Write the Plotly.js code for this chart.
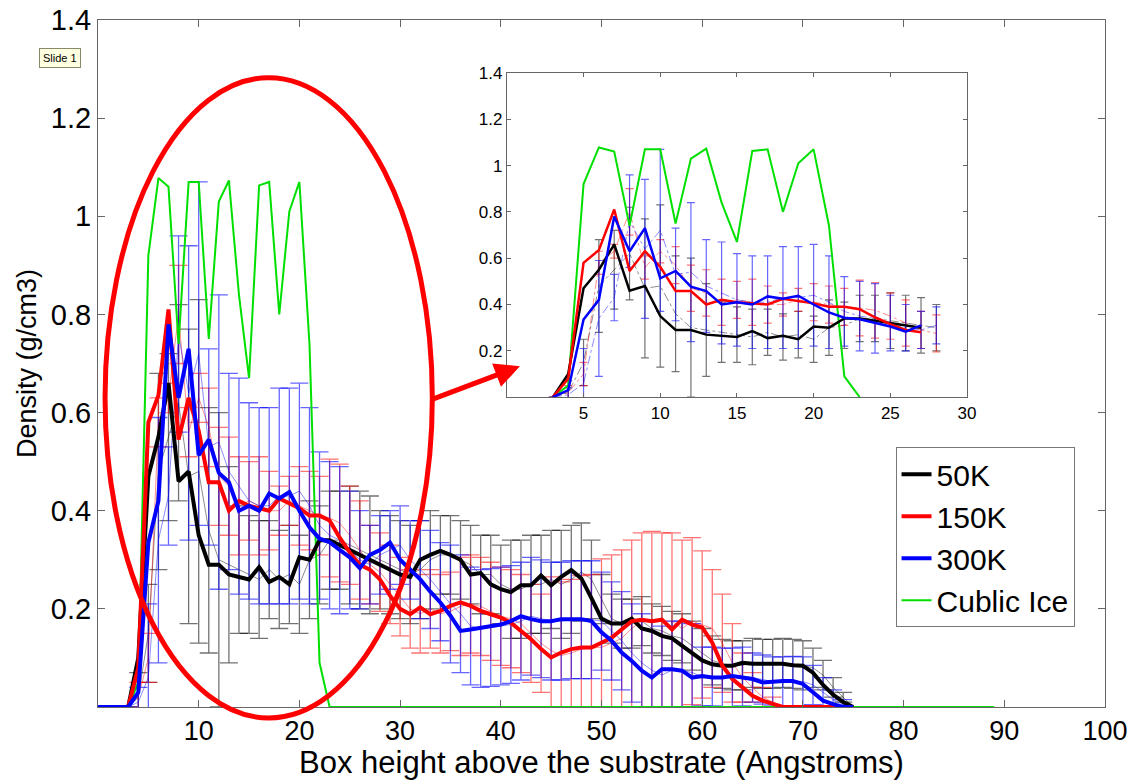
<!DOCTYPE html>
<html>
<head>
<meta charset="utf-8">
<script src="https://cdn.plot.ly/plotly-3.0.1.min.js"></script>
<style>html,body{margin:0;padding:0;background:#fff;}#chart{width:1145px;height:780px;}</style>
</head>
<body>
<div id="chart"></div>
<script>
// Bin positions (Angstroms)
const xs = [0,1,2,3,4,5,6,7,8,9,10,11,12,13,14,15,16,17,18,19,20,21,22,23,24,25,26,27,28,29,30,31,32,33,34,35,36,37,38,39,40,41,42,43,44,45,46,47,48,49,50,51,52,53,54,55,56,57,58,59,60,61,62,63,64,65,66,67,68,69,70,71,72,73,74,75];

// 50K mean density, a single run, and error
const d50 = [0,0,0,0,0.10,0.47,0.55,0.66,0.46,0.48, 0.35,0.29,0.29,0.27,0.265,0.26,0.285,0.255,0.265,0.25, 0.305,0.30,0.34,0.34,0.33,0.32,0.31,0.30,0.29,0.28, 0.27,0.265,0.30,0.31,0.318,0.31,0.30,0.27,0.273,0.25, 0.24,0.234,0.248,0.248,0.268,0.248,0.265,0.279,0.262,0.222, 0.18,0.17,0.17,0.18,0.16,0.155,0.145,0.14,0.125,0.11, 0.095,0.087,0.084,0.084,0.09,0.088,0.088,0.09,0.088,0.085, 0.084,0.07,0.045,0.025,0.01,0];
const d50run = [0,0,0,0,0.02,0.15,0.48,0.55,0.62,0.47, 0.48,0.36,0.30,0.29,0.28,0.27,0.26,0.28,0.26,0.27, 0.25,0.30,0.31,0.34,0.34,0.33,0.32,0.31,0.30,0.29, 0.28,0.27,0.28,0.30,0.31,0.31,0.30,0.29,0.27,0.27, 0.25,0.24,0.24,0.25,0.25,0.26,0.25,0.26,0.275,0.26, 0.22,0.18,0.17,0.17,0.175,0.16,0.155,0.145,0.14,0.125, 0.11,0.095,0.088,0.085,0.085,0.09,0.088,0.088,0.09,0.088, 0.085,0.08,0.065,0.04,0.02,0];
const e50 = [null,null,null,null,0.05,0.1,0.2,0.17,0.2,0.3, 0.35,0.25,0.3,0.2,0.13,0.12,0.12,0.1,0.1,0.1, 0.1,0.12,0.1,0.1,0.1,0.12,0.12,0.12,0.1,0.1, 0.1,0.1,0.1,0.1,0.08,0.08,0.08,0.08,0.08,0.08, 0.08,0.1,0.1,0.1,0.1,0.1,0.11,0.11,0.1,0.08, 0.05,0.05,0.05,0.05,0.05,0.05,0.05,0.05,0.05,0.05, 0.05,0.05,0.05,0.05,0.05,0.05,0.05,0.05,0.05,0.05, 0.05,0.04,0.03,0.02,0.01,null];

// 150K
const d150 = [0,0,0,0,0.08,0.58,0.635,0.81,0.545,0.63, 0.563,0.458,0.458,0.40,0.42,0.41,0.405,0.40,0.425,0.415, 0.405,0.39,0.39,0.38,0.345,0.315,0.29,0.28,0.26,0.227, 0.20,0.189,0.203,0.189,0.196,0.206,0.213,0.206,0.196,0.189, 0.182,0.172,0.155,0.138,0.118,0.101,0.111,0.118,0.121,0.121, 0.131,0.141,0.158,0.175,0.178,0.175,0.178,0.158,0.178,0.168, 0.162,0.131,0.084,0.057,0.04,0.023,0.013,0.006,0,0, 0,0,0,0,0,0];
const d150run = [0,0,0,0,0.02,0.10,0.58,0.63,0.80,0.56, 0.63,0.57,0.47,0.45,0.41,0.42,0.41,0.40,0.40,0.42, 0.41,0.40,0.39,0.385,0.375,0.35,0.32,0.29,0.275,0.25, 0.225,0.20,0.19,0.20,0.19,0.195,0.205,0.21,0.205,0.195, 0.185,0.18,0.17,0.15,0.13,0.115,0.105,0.11,0.118,0.12, 0.122,0.13,0.14,0.16,0.175,0.178,0.175,0.175,0.16,0.175, 0.168,0.16,0.13,0.09,0.06,0.04,0.02,0.01,0,0, 0,0,0,0,0,0];
const e150 = [null,null,null,null,0.03,0.05,0.05,0.03,0.1,0.05, 0.05,0.08,0.1,0.1,0.1,0.08,0.1,0.08,0.05,0.05, 0.08,0.08,0.08,0.12,0.12,0.1,0.1,0.08,0.08,0.08, 0.08,0.08,0.08,0.08,0.08,0.08,0.1,0.1,0.1,0.1, 0.1,0.1,0.1,0.1,0.1,0.15,0.15,0.15,0.15,0.15, 0.18,0.18,0.18,0.18,0.18,0.18,0.18,0.18,0.18,0.17, 0.15,0.12,0.1,0.08,0.05,0.03,0.02,0.01,null,null, null,null,null,null,null,null];

// 300K
const d300 = [0,0,0,0,0.03,0.335,0.42,0.78,0.63,0.73, 0.513,0.545,0.477,0.458,0.40,0.41,0.40,0.435,0.425,0.438, 0.40,0.366,0.343,0.336,0.32,0.305,0.283,0.31,0.32,0.335, 0.30,0.28,0.26,0.235,0.213,0.186,0.155,0.158,0.162,0.165, 0.168,0.175,0.185,0.179,0.175,0.175,0.179,0.179,0.179,0.175, 0.152,0.135,0.111,0.094,0.074,0.06,0.077,0.077,0.074,0.06, 0.063,0.06,0.06,0.063,0.06,0.057,0.05,0.052,0.053,0.053, 0.047,0.03,0.013,0.006,0,0];
const d300run = [0,0,0,0,0.01,0.06,0.34,0.43,0.76,0.64, 0.72,0.53,0.54,0.48,0.45,0.42,0.41,0.41,0.43,0.43, 0.44,0.41,0.37,0.35,0.34,0.32,0.30,0.29,0.31,0.32, 0.33,0.30,0.28,0.26,0.235,0.21,0.19,0.165,0.16,0.162, 0.165,0.168,0.175,0.185,0.18,0.175,0.175,0.178,0.178,0.178, 0.175,0.155,0.135,0.11,0.09,0.075,0.065,0.075,0.075,0.07, 0.062,0.062,0.06,0.06,0.062,0.06,0.056,0.052,0.052,0.053, 0.052,0.045,0.03,0.015,0.005,0];
const e300 = [null,null,null,null,0.03,0.15,0.25,0.1,0.2,0.3, 0.35,0.2,0.3,0.2,0.22,0.2,0.2,0.2,0.22,0.22, 0.22,0.2,0.15,0.15,0.15,0.12,0.1,0.08,0.08,0.08, 0.08,0.08,0.1,0.1,0.1,0.12,0.12,0.12,0.12,0.12, 0.12,0.12,0.12,0.12,0.12,0.12,0.12,0.12,0.12,0.12, 0.1,0.1,0.1,0.1,0.1,0.1,0.1,0.1,0.1,0.1, 0.06,0.06,0.06,0.06,0.06,0.05,0.05,0.05,0.05,0.05, 0.05,0.04,0.03,0.02,0.01,null];

// Cubic ice reference
const iceX = [0,1,2,3,4,5,6,7,8,9,10,11,12,13,14,15,16,17,18,19,20,21,22,23,89];
const iceY = [0,0,0,0,0.05,0.92,1.078,1.06,0.74,1.07,1.07,0.75,1.03,1.073,0.84,0.67,1.063,1.07,0.80,1.01,1.07,0.74,0.09,0,0];

const names = ['50K','150K','300K'];
const lineCols = ['#000000','#ff0000','#0000ff'];
const thinCols = ['rgba(0,0,0,0.45)','rgba(255,0,0,0.45)','rgba(0,0,255,0.45)'];
const errCols = ['rgba(0,0,0,0.55)','rgba(255,0,0,0.55)','rgba(0,0,255,0.6)'];
const means = [d50,d150,d300];
const runs = [d50run,d150run,d300run];
const errs = [e50,e150,e300];

const traces = [];
// main: thin runs with error bars
for (let i=0;i<3;i++){
  traces.push({x:xs,y:runs[i],type:'scatter',mode:'lines',showlegend:false,hoverinfo:'skip',
    line:{color:thinCols[i],width:1},
    error_y:{type:'data',array:errs[i],visible:true,color:errCols[i],thickness:1.3,width:9},
    xaxis:'x',yaxis:'y'});
}
traces.push({x:iceX,y:iceY,type:'scatter',mode:'lines',name:'Cublic Ice',legendrank:4,
  line:{color:'#00e000',width:2},xaxis:'x',yaxis:'y'});
for (let i=0;i<3;i++){
  traces.push({x:xs,y:means[i],type:'scatter',mode:'lines',name:names[i],legendrank:i+1,
    line:{color:lineCols[i],width:4},xaxis:'x',yaxis:'y'});
}
// inset
for (let i=0;i<3;i++){
  traces.push({x:xs.slice(3,29),y:runs[i].slice(3,29),type:'scatter',mode:'lines',showlegend:false,hoverinfo:'skip',
    line:{color:thinCols[i],width:1,dash:'dashdot'},
    error_y:{type:'data',array:errs[i].slice(3,29),visible:true,color:errCols[i],thickness:1.2,width:4},
    xaxis:'x2',yaxis:'y2'});
}
traces.push({x:iceX.slice(3,24),y:iceY.slice(3,24),type:'scatter',mode:'lines',showlegend:false,
  line:{color:'#00e000',width:2},xaxis:'x2',yaxis:'y2'});
for (let i=0;i<3;i++){
  traces.push({x:xs.slice(3,28),y:means[i].slice(3,28),type:'scatter',mode:'lines',showlegend:false,
    line:{color:lineCols[i],width:2.5},xaxis:'x2',yaxis:'y2'});
}

const F = 'Liberation Sans, Arial, sans-serif';
const mainTickX = [10,20,30,40,50,60,70,80,90,100];
const mainTickY = [0.2,0.4,0.6,0.8,1.0,1.2,1.4];
const mainTickYText = ['0.2','0.4','0.6','0.8','1','1.2','1.4'];
const insetTickX = [5,10,15,20,25,30];

const layout = {
  width:1145,height:780,
  margin:{l:98,r:40,t:20,b:73},
  paper_bgcolor:'#ffffff',plot_bgcolor:'#ffffff',
  font:{family:F,color:'#000'},
  showlegend:true,
  legend:{x:0.792,y:0.378,xanchor:'left',yanchor:'top',bgcolor:'#ffffff',bordercolor:'#777',borderwidth:1,
    font:{family:F,size:30,color:'#000'},tracegroupgap:0,itemwidth:30},
  xaxis:{domain:[0,1],range:[0,100],tickvals:mainTickX,ticks:'inside',ticklen:7,tickcolor:'#666',
    showline:true,linecolor:'#666',linewidth:1,mirror:'ticks',showgrid:false,zeroline:false,
    tickfont:{family:F,size:27},
    title:{text:'Box height above the substrate (Angstroms)',font:{family:F,size:31},standoff:3}},
  yaxis:{domain:[0,1],range:[0,1.4],tickvals:mainTickY,ticktext:mainTickYText,ticks:'inside',ticklen:7,tickcolor:'#666',
    showline:true,linecolor:'#666',linewidth:1,mirror:'ticks',showgrid:false,zeroline:false,
    tickfont:{family:F,size:29},
    title:{text:'Density (g/cm3)',font:{family:F,size:27},standoff:6}},
  xaxis2:{domain:[0.406,0.863],anchor:'y2',range:[0,30],tickvals:insetTickX,ticks:'inside',ticklen:4,tickcolor:'#666',
    showline:true,linecolor:'#666',linewidth:1,mirror:'ticks',showgrid:false,zeroline:false,
    tickfont:{family:F,size:17}},
  yaxis2:{domain:[0.451,0.923],anchor:'x2',range:[0,1.4],tickvals:mainTickY,ticktext:mainTickYText,ticks:'inside',ticklen:4,tickcolor:'#666',
    showline:true,linecolor:'#666',linewidth:1,mirror:'ticks',showgrid:false,zeroline:false,
    tickfont:{family:F,size:17}},
  shapes:[
    {type:'circle',xref:'paper',yref:'paper',x0:0.007,x1:0.332,y0:-0.016,y1:0.916,
     line:{color:'#ff0000',width:5},layer:'above'}
  ],
  annotations:[
    {text:'Slide 1',xref:'paper',yref:'paper',x:-0.059,y:0.945,xanchor:'left',yanchor:'middle',showarrow:false,
     bgcolor:'#ffffe1',bordercolor:'#8a8a6a',borderwidth:1,borderpad:3,font:{family:F,size:11,color:'#000'}},
    {text:'',xref:'paper',yref:'paper',x:0.419,y:0.496,ax:-90,ay:34,showarrow:true,
     arrowcolor:'#ff0000',arrowwidth:5,arrowhead:2,arrowsize:1,standoff:0}
  ]
};

Plotly.newPlot('chart',traces,layout,{displayModeBar:false,staticPlot:true});
</script>
</body>
</html>
